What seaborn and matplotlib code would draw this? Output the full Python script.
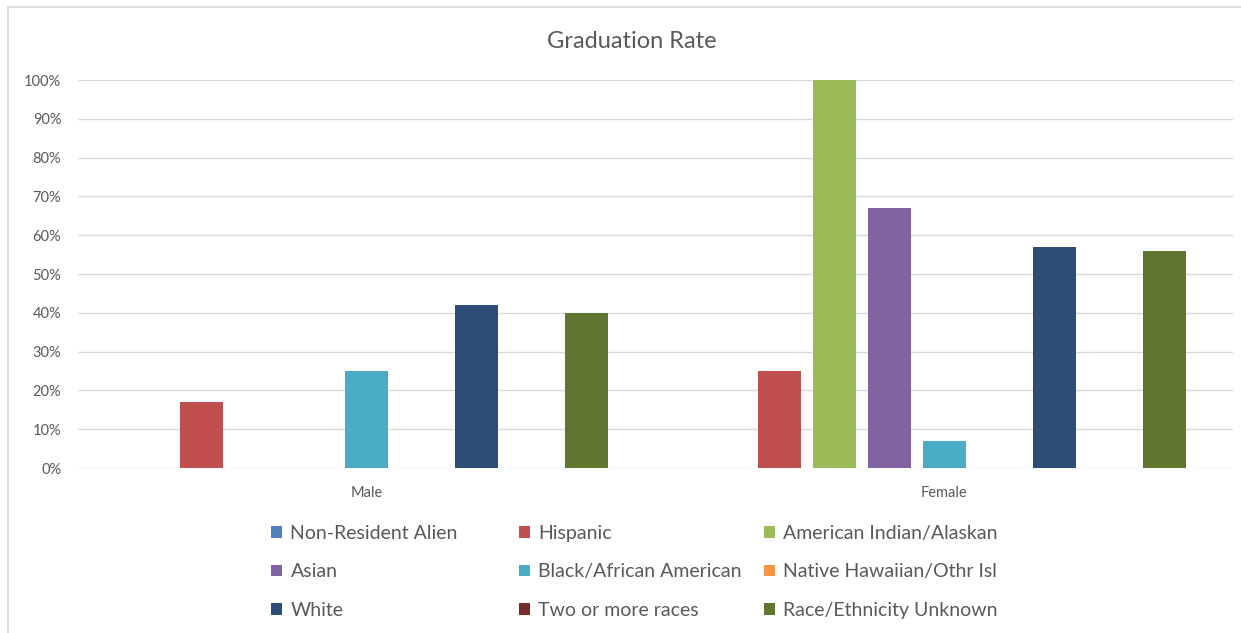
import numpy as np
import pandas as pd
import seaborn as sns
import matplotlib.pyplot as plt
from matplotlib.patches import Rectangle

# Data
genders = ['Male', 'Female']
groups = ['Non-Resident Alien', 'Hispanic', 'American Indian/Alaskan',
          'Asian', 'Black/African American', 'Native Hawaiian/Othr Isl',
          'White', 'Two or more races', 'Race/Ethnicity Unknown']
male_rates = [0.00, 0.17, 0.00, 0.00, 0.25, 0.00, 0.42, 0.00, 0.40]
female_rates = [0.00, 0.25, 1.00, 0.67, 0.07, 0.00, 0.57, 0.00, 0.56]
colors = ['#4F81BD', '#C0504D', '#9BBB59', '#8064A2', '#4BACC6',
          '#F79646', '#2C4D75', '#772C2A', '#5F7530']
y_ticks = np.arange(0, 1.01, 0.1)

df = pd.DataFrame({
    'gender': np.repeat(genders, len(groups)),
    'group': groups * 2,
    'rate': male_rates + female_rates,
})

sns.set_style('white')
plt.rcParams['font.family'] = ['Lato', 'DejaVu Sans']
text_col = '#595959'
grid_col = '#D9D9D9'

W, H = 1241, 633
fig = plt.figure(figsize=(W / 100, H / 100), dpi=100)
ax = fig.add_axes([78 / W, 1 - 468 / H, (1233 - 78) / W, (468 - 80) / H])

sns.barplot(data=df, x='gender', y='rate', hue='group', hue_order=groups,
            order=genders, palette=colors, width=0.857, gap=0.213,
            linewidth=0, errorbar=None, ax=ax, saturation=1)

ax.set_xlim(-0.5, 1.5)
ax.set_ylim(0, 1)
ax.set_yticks(y_ticks)
ax.set_yticklabels([f'{int(round(t * 100))}%' for t in y_ticks])
ax.set_xlabel('')
ax.set_ylabel('')
for y in y_ticks:
    ax.axhline(y, color=grid_col, lw=1, zorder=0)
for s in ax.spines.values():
    s.set_visible(False)
ax.tick_params(axis='both', length=0, colors=text_col, labelsize=10.5)
ax.tick_params(axis='y', pad=12)
ax.tick_params(axis='x', pad=13)

# legend in three columns, row-wise order like Excel
handles, labels = ax.get_legend_handles_labels()
ax.get_legend().remove()
col_x = [271, 519, 764]
for c in range(3):
    idx = [c, c + 3, c + 6]
    leg = fig.legend([handles[i] for i in idx], [labels[i] for i in idx],
                     loc='upper left', bbox_to_anchor=(col_x[c] / W, 1 - 525 / H),
                     frameon=False, fontsize=14, handlelength=0.55,
                     handleheight=0.55, handletextpad=0.45, labelspacing=1.1,
                     borderaxespad=0, borderpad=0)
    for t in leg.get_texts():
        t.set_color(text_col)

fig.text(632 / W, 1 - 41 / H, 'Graduation Rate', ha='center', va='center',
         fontsize=17, color=text_col)

fig.patches.append(Rectangle((8 / W, -0.02), 1.1, 1 - 7 / H + 0.02,
                             transform=fig.transFigure, fill=False,
                             ec=grid_col, lw=1.2))

fig.savefig('out.png', dpi=100)
